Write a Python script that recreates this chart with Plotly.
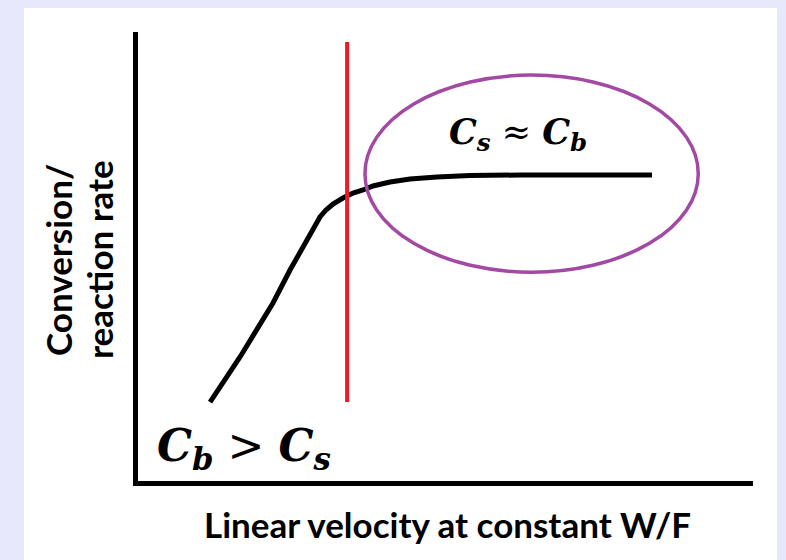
import plotly.graph_objects as go

# ---- data (abstract units) ----
curve_x = [1.171, 1.659, 2.195, 2.472, 2.748, 2.959, 3.057, 3.171, 3.333, 3.496, 3.659,
           3.821, 4.098, 4.423, 4.862, 5.398, 6.211, 8.358]
curve_y = [1.759, 2.762, 3.964, 4.699, 5.367, 5.880, 6.036, 6.169, 6.303, 6.414, 6.481,
           6.570, 6.659, 6.726, 6.771, 6.804, 6.815, 6.815]

threshold_x = [3.40, 3.40]
threshold_y = [1.76, 9.78]

ellipse_box = {"x0": 3.69, "x1": 9.11, "y0": 4.65, "y1": 9.04}

label_low = "<b><i>C</i></b><sub><b><i>b</i></b></sub> &gt; <b><i>C</i></b><sub><b><i>s</i></b></sub>"
label_high = "<b><i>C</i></b><sub><b><i>s</i></b></sub> ≈ <b><i>C</i></b><sub><b><i>b</i></b></sub>"
x_title = "Linear velocity at constant W/F"
y_title_lines = ["Conversion/", "reaction rate"]

W, H = 786, 560
L, R, T, B = 138, 33, 32, 79
pw, ph = W - L - R, H - T - B

def px(xp):
    return (xp - L) / pw

def py(yp):
    return (H - B - yp) / ph

fig = go.Figure()
fig.add_trace(go.Scatter(x=curve_x, y=curve_y, mode="lines",
                         line=dict(color="black", width=5),
                         hoverinfo="skip", showlegend=False))
fig.add_trace(go.Scatter(x=threshold_x, y=threshold_y, mode="lines",
                         line=dict(color="#ED1C24", width=4),
                         hoverinfo="skip", showlegend=False))

fig.add_shape(type="circle", xref="x", yref="y", line=dict(color="#A349A4", width=3.5),
              **ellipse_box)
# white panel
fig.add_shape(type="rect", xref="paper", yref="paper", layer="below",
              x0=px(24), x1=px(777), y0=py(562), y1=py(8),
              fillcolor="white", line=dict(width=0))

math_font = dict(family="DejaVu Serif", color="black")
fig.add_annotation(x=1.72, y=0.72, xref="x", yref="y", text=label_low, showarrow=False,
                   font=dict(size=44, **math_font), xanchor="center", yanchor="middle")
fig.add_annotation(x=6.18, y=7.72, xref="x", yref="y", text=label_high, showarrow=False,
                   font=dict(size=35, **math_font), xanchor="center", yanchor="middle")

title_font = dict(family="Lato", size=35, color="black")
fig.add_annotation(x=px(447), y=py(524), xref="paper", yref="paper", text="<b>" + x_title + "</b>",
                   showarrow=False, font=title_font, xanchor="center", yanchor="middle")
fig.add_annotation(x=px(58), y=py(260), xref="paper", yref="paper", text="<b>" + y_title_lines[0] + "</b>",
                   showarrow=False, font=title_font, textangle=-90, xanchor="center", yanchor="middle")
fig.add_annotation(x=px(99), y=py(260), xref="paper", yref="paper", text="<b>" + y_title_lines[1] + "</b>",
                   showarrow=False, font=title_font, textangle=-90, xanchor="center", yanchor="middle")

axis_common = dict(showgrid=False, zeroline=False, showticklabels=False, ticks="",
                   showline=True, linecolor="black", linewidth=5, fixedrange=True)
fig.update_xaxes(range=[0, 10], **axis_common)
fig.update_yaxes(range=[0, 10], **axis_common)

fig.update_layout(width=W, height=H, margin=dict(l=L, r=R, t=T, b=B),
                  paper_bgcolor="#E8E8FC", plot_bgcolor="rgba(0,0,0,0)",
                  showlegend=False)

fig.write_html("out.html", config={"displayModeBar": False},
               post_script="document.body.style.margin='0';document.body.style.background='#E8E8FC';document.body.style.overflow='hidden';")
